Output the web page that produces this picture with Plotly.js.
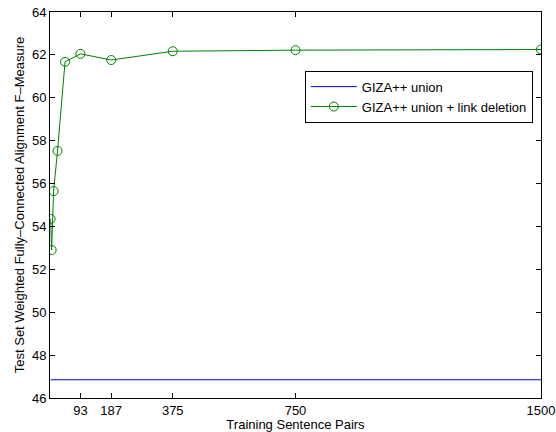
<!DOCTYPE html>
<html>
<head>
<meta charset="utf-8">
<script src="https://cdn.plot.ly/plotly-3.0.1.min.js"></script>
<style>html,body{margin:0;padding:0;background:#fff;}#chart{width:556px;height:432px;}</style>
</head>
<body>
<div id="chart"></div>
<script>
const trainingPairs = [2, 5, 11, 23, 46, 93, 187, 375, 750, 1500];
const gizaUnion = [46.85, 46.85, 46.85, 46.85, 46.85, 46.85, 46.85, 46.85, 46.85, 46.85];
const gizaLinkDeletion = [54.35, 52.9, 55.65, 57.52, 61.68, 62.05, 61.76, 62.17, 62.22, 62.25];
const xTickVals = [93, 187, 375, 750, 1500];
const yTickVals = [46, 48, 50, 52, 54, 56, 58, 60, 62, 64];

const font = {family: 'Liberation Sans, Arial, Helvetica, sans-serif', color: '#000'};

const traces = [
  {
    x: trainingPairs, y: gizaUnion, name: 'GIZA++ union',
    mode: 'lines', line: {color: 'rgb(0,0,255)', width: 1}
  },
  {
    x: trainingPairs, y: gizaLinkDeletion, name: 'GIZA++ union + link deletion',
    mode: 'lines+markers', line: {color: 'rgb(0,128,0)', width: 1},
    marker: {symbol: 'circle-open', size: 9, color: 'rgb(0,128,0)', line: {width: 1, color: 'rgb(0,128,0)'}}
  }
];

const axisCommon = {
  showgrid: false, zeroline: false, showline: true, linecolor: '#000', linewidth: 1,
  mirror: 'allticks', ticks: 'inside', ticklen: 5, tickcolor: '#000', tickwidth: 1,
  tickfont: {family: font.family, size: 13, color: '#000'}
};

const layout = {
  width: 556, height: 432,
  margin: {l: 50, r: 15, t: 12, b: 34, pad: 0},
  paper_bgcolor: '#fff', plot_bgcolor: '#fff',
  font: font,
  showlegend: true,
  legend: {
    x: 0.519, y: 0.848, xanchor: 'left', yanchor: 'top',
    bordercolor: '#000', borderwidth: 1, bgcolor: '#fff',
    font: {family: font.family, size: 13, color: '#000'},
    itemwidth: 46, tracegroupgap: 0
  },
  xaxis: Object.assign({}, axisCommon, {
    range: [0, 1500], tickmode: 'array', tickvals: xTickVals,
    ticktext: xTickVals.map(String),
    title: {text: 'Training Sentence Pairs', font: {family: font.family, size: 13, color: '#000'}, standoff: 0}
  }),
  yaxis: Object.assign({}, axisCommon, {
    range: [46, 64], tickmode: 'array', tickvals: yTickVals,
    ticktext: yTickVals.map(String),
    title: {text: 'Test Set Weighted Fully\u2013Connected Alignment F\u2013Measure', font: {family: font.family, size: 13, color: '#000'}, standoff: 4}
  })
};

Plotly.newPlot('chart', traces, layout, {displayModeBar: false, staticPlot: true});
</script>
</body>
</html>
